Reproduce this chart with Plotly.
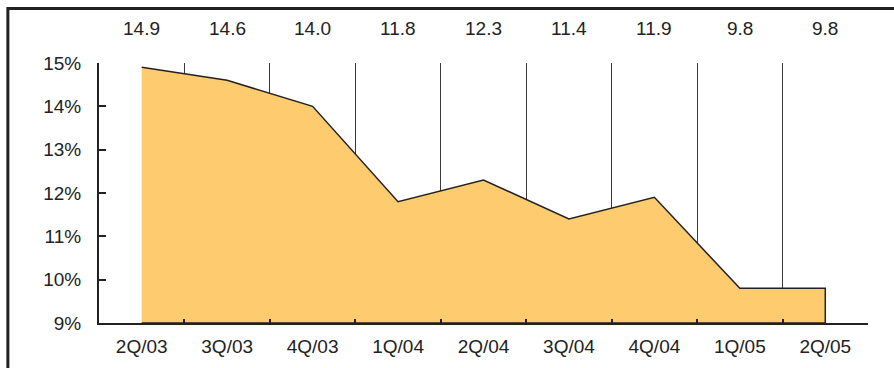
import plotly.graph_objects as go

quarters = ["2Q/03", "3Q/03", "4Q/03", "1Q/04", "2Q/04", "3Q/04", "4Q/04", "1Q/05", "2Q/05"]
values = [14.9, 14.6, 14.0, 11.8, 12.3, 11.4, 11.9, 9.8, 9.8]
value_labels = ["14.9", "14.6", "14.0", "11.8", "12.3", "11.4", "11.9", "9.8", "9.8"]
y_min, y_max = 9, 15
y_ticks = [9, 10, 11, 12, 13, 14, 15]
y_tick_labels = [f"{v}%" for v in y_ticks]

DARK = "#222222"
FONT = "Liberation Sans, Arial, sans-serif"
FS = 19

# closed polygon: data line + down to axis base at both ends
poly_x = quarters + [quarters[-1], quarters[0]]
poly_y = values + [y_min, y_min]

fig = go.Figure()
fig.add_trace(go.Scatter(
    x=poly_x, y=poly_y, mode="lines", fill="toself",
    fillcolor="#FECB6F", line=dict(color=DARK, width=1.5),
    hoverinfo="skip", showlegend=False,
))

for q, lab in zip(quarters, value_labels):
    fig.add_annotation(x=q, y=1.133, xref="x", yref="paper", text=lab,
                       showarrow=False, font=dict(family=FONT, size=FS, color=DARK),
                       xanchor="center", yanchor="middle")

# outer frame (top and left edges visible)
fig.add_shape(type="rect", xref="paper", yref="paper",
              x0=-0.1185, x1=1.06, y0=-0.3, y1=1.2096,
              line=dict(color=DARK, width=3), fillcolor="rgba(0,0,0,0)", layer="above")

fig.update_layout(
    width=894, height=368, autosize=False,
    margin=dict(l=99, r=26, t=63, b=45),
    paper_bgcolor="white", plot_bgcolor="white",
    font=dict(family=FONT, size=FS, color=DARK),
    xaxis=dict(
        type="category", categoryorder="array", categoryarray=quarters,
        range=[-0.5, len(quarters) - 0.5],
        tickson="boundaries", ticks="inside", ticklen=4, tickwidth=2, tickcolor=DARK,
        showgrid=True, gridcolor="#3a3a3a", gridwidth=1,
        showline=True, linecolor=DARK, linewidth=2,
        tickfont=dict(family=FONT, size=FS, color=DARK),
        ticklabelstandoff=5,
        fixedrange=True,
    ),
    yaxis=dict(
        range=[y_min, y_max], tickmode="array", tickvals=y_ticks, ticktext=y_tick_labels,
        ticks="inside", ticklen=7, tickwidth=2, tickcolor=DARK,
        showgrid=False, zeroline=False,
        showline=True, linecolor=DARK, linewidth=2,
        tickfont=dict(family=FONT, size=FS, color=DARK),
        ticklabelstandoff=12,
        fixedrange=True,
    ),
)

fig.write_html("out.html")
